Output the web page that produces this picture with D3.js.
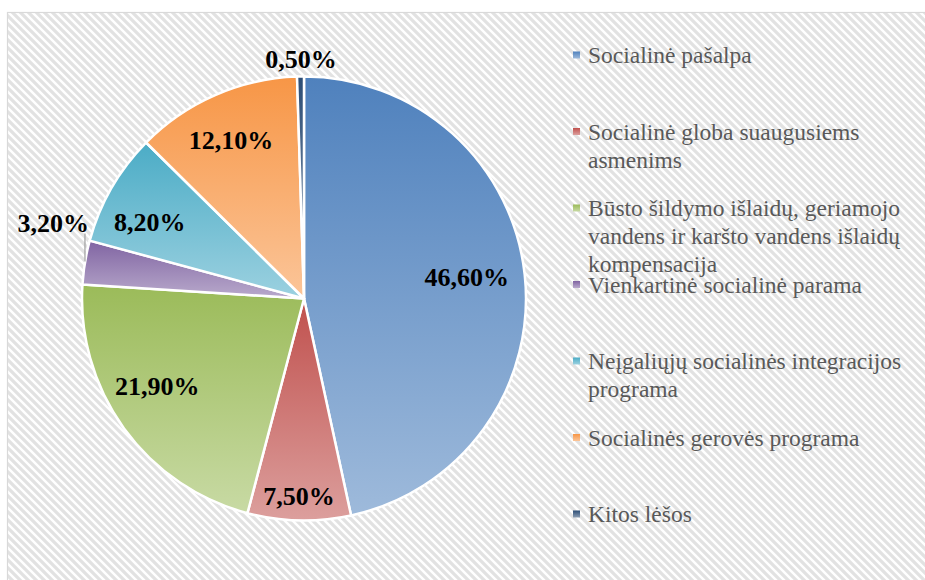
<!DOCTYPE html>
<html>
<head>
<meta charset="utf-8">
<script src="https://cdn.jsdelivr.net/npm/d3@7/dist/d3.min.js"></script>
<style>
  html, body { margin: 0; padding: 0; background: #ffffff; }
  svg { display: block; }
</style>
</head>
<body>
<svg id="chart" width="925" height="580"></svg>
<script>
// ---- Data ----
const categories = [
  "Socialinė pašalpa",
  "Socialinė globa suaugusiems asmenims",
  "Būsto šildymo išlaidų, geriamojo vandens ir karšto vandens išlaidų kompensacija",
  "Vienkartinė socialinė parama",
  "Neįgaliųjų socialinės integracijos programa",
  "Socialinės gerovės programa",
  "Kitos lėšos"
];
const values = [46.6, 7.5, 21.9, 3.2, 8.2, 12.1, 0.5];
const colors = ["#4F81BD", "#C0504D", "#9BBB59", "#8064A2", "#4BACC6", "#F79646", "#2C4D75"];

// ---- Layout (not data) ----
const W = 925, H = 580;
const cx = 304, cy = 298.5, R = 222;
// label placement: radius fraction and angle offset (deg) from slice middle
const labelPlacement = [
  { r: 0.74, da: -1.6 },
  { r: 0.89, da: 0.2 },
  { r: 0.77, da: 5 },
  { r: 1.18, da: 7.5, leader: true },
  { r: 0.775, da: -3.6 },
  { r: 0.785, da: -1.2 },
  { r: 1.08, da: 0.2 }
];
const legend = { markerX: 573, textX: 588, y0: 55, step: 76.5, lineH: 28, maxW: 335, fontSize: 23.5 };

const svg = d3.select("#chart");
const defs = svg.append("defs");

// background pattern (downward diagonal stripes)
const pat = defs.append("pattern")
  .attr("id", "bgpat").attr("patternUnits", "userSpaceOnUse")
  .attr("width", 8).attr("height", 8);
pat.append("rect").attr("width", 8).attr("height", 8).attr("fill", "#ffffff");
pat.append("path")
  .attr("d", "M-2,-2 L10,10 M-2,6 L2,10 M6,-2 L10,2")
  .attr("stroke", "#e2e2e2").attr("stroke-width", 3.2);

svg.append("rect")
  .attr("x", 7.5).attr("y", 12.5).attr("width", 940).attr("height", 600)
  .attr("fill", "url(#bgpat)").attr("stroke", "#d9d9d9").attr("stroke-width", 1.2);

// gradients
colors.forEach((c, i) => {
  const g = defs.append("linearGradient").attr("id", "grad" + i)
    .attr("x1", 0).attr("y1", 0).attr("x2", 0).attr("y2", 1);
  g.append("stop").attr("offset", "0%").attr("stop-color", c);
  g.append("stop").attr("offset", "100%").attr("stop-color", d3.interpolateRgb(c, "#ffffff")(0.45));
});

const pie = d3.pie().sort(null).value(d => d).startAngle(0).endAngle(2 * Math.PI);
const arcs = pie(values);
const arc = d3.arc().innerRadius(0).outerRadius(R);

const gPie = svg.append("g").attr("transform", `translate(${cx},${cy})`);
gPie.selectAll("path.slice").data(arcs).enter().append("path")
  .attr("class", "slice")
  .attr("d", arc)
  .attr("fill", (d, i) => `url(#grad${i})`)
  .attr("stroke", "#ffffff").attr("stroke-width", 2.5).attr("stroke-linejoin", "round");

const locale = d3.formatLocale({ decimal: ",", thousands: " ", grouping: [3], currency: ["", ""] });
const fmt = v => locale.format(".2f")(v) + "%";

function polar(angle, rad) {
  return [rad * Math.sin(angle), -rad * Math.cos(angle)];
}

arcs.forEach((d, i) => {
  const lp = labelPlacement[i];
  const mid = (d.startAngle + d.endAngle) / 2;
  const a = mid + lp.da * Math.PI / 180;
  const [x, y] = polar(a, lp.r * R);
  if (lp.leader) {
    const [ex, ey] = polar(mid, R);
    gPie.append("line")
      .attr("x1", ex).attr("y1", ey - 1).attr("x2", ex).attr("y2", y + 11)
      .attr("stroke", "#a6a6a6").attr("stroke-width", 1.3);
  }
  gPie.append("text")
    .attr("x", x).attr("y", y).attr("dy", "0.35em")
    .attr("text-anchor", "middle")
    .attr("font-family", "'Liberation Serif', 'Times New Roman', serif")
    .attr("font-weight", "bold").attr("font-size", 26)
    .attr("fill", "#000000")
    .text(fmt(values[i]));
});

// legend
const gLeg = svg.append("g");
const measurer = svg.append("text")
  .attr("font-family", "'Liberation Serif', 'Times New Roman', serif")
  .attr("font-size", legend.fontSize).attr("visibility", "hidden");
function wrap(str) {
  const words = str.split(" ");
  const lines = [];
  let cur = "";
  words.forEach(w => {
    const t = cur ? cur + " " + w : w;
    measurer.text(t);
    if (measurer.node().getComputedTextLength() > legend.maxW && cur) {
      lines.push(cur); cur = w;
    } else cur = t;
  });
  if (cur) lines.push(cur);
  return lines;
}

categories.forEach((c, i) => {
  const y = legend.y0 + i * legend.step;
  gLeg.append("rect")
    .attr("x", legend.markerX).attr("y", y - 3.5).attr("width", 7).attr("height", 7)
    .attr("fill", `url(#grad${i})`);
  const t = gLeg.append("text")
    .attr("font-family", "'Liberation Serif', 'Times New Roman', serif")
    .attr("font-size", legend.fontSize).attr("fill", "#595959");
  wrap(c).forEach((ln, j) => {
    t.append("tspan").attr("x", legend.textX).attr("y", y + 8 + j * legend.lineH).text(ln);
  });
});
measurer.remove();
</script>
</body>
</html>
